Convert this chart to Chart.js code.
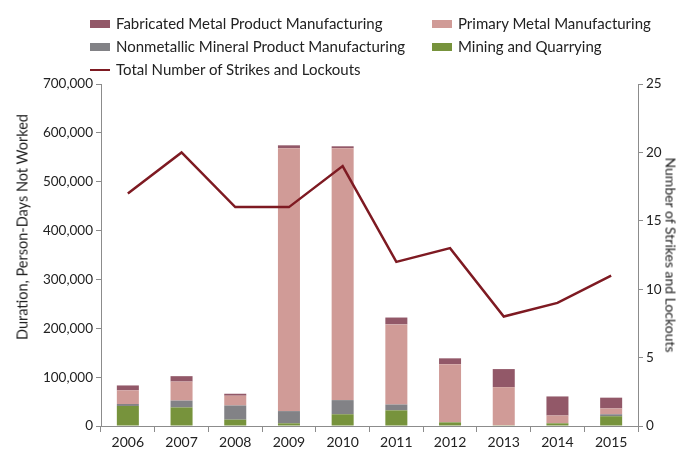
<!DOCTYPE html>
<html>
<head>
<meta charset="utf-8">
<script src="https://cdn.jsdelivr.net/npm/chart.js@4"></script>
<style>
  body { margin: 0; background: #fff; font-family: Lato, sans-serif; color: #222; }
  #wrap { position: relative; width: 679px; height: 450px; }
  #legend { position: absolute; left: 0; top: 0; font-size: 15px; }
  .item { position: absolute; white-space: nowrap; line-height: 18px; }
  .box { display: inline-block; width: 20px; height: 8px; margin-right: 6px; vertical-align: 1px; }
  .ln { display: inline-block; width: 20px; height: 2px; margin-right: 6px; vertical-align: 4px; }
  .ytitle { position: absolute; white-space: nowrap; font-size: 14.5px; transform: translate(-50%, -50%) rotate(-90deg); }
  .y1title { position: absolute; white-space: nowrap; font-size: 14px; transform: translate(-50%, -50%) rotate(90deg); }
</style>
</head>
<body>
<div id="wrap">
  <canvas id="chart" width="679" height="450"></canvas>
  <div id="legend"></div>
  <div class="ytitle" style="left:22px; top:227px;">Duration, Person-Days Not Worked</div>
  <div class="y1title" style="left:671px; top:255px;">Number of Strikes and Lockouts</div>
</div>
<script>
const years = ['2006', '2007', '2008', '2009', '2010', '2011', '2012', '2013', '2014', '2015'];

// person-days not worked, by industry
const mining = [41000, 38000, 13000, 5500, 24000, 32000, 7500, 1500, 5500, 20000];
const nonmetallic = [4000, 14000, 29000, 25000, 29000, 12000, 0, 0, 0, 4000];
const primaryMetal = [28000, 39000, 20000, 538000, 515500, 164000, 119000, 78000, 16000, 12000];
const fabricated = [10000, 11000, 4000, 6000, 4000, 14000, 12000, 37000, 39000, 22000];

// total number of strikes and lockouts
const strikes = [17, 20, 16, 16, 19, 12, 13, 8, 9, 11];

const colors = {
  fabricated: '#925868',
  primary: '#D09B97',
  nonmetallic: '#828286',
  mining: '#77933C',
  line: '#7E1A22'
};

const font = { family: 'Lato, sans-serif', size: 13.5 };

const barOpts = { yAxisID: 'y', stack: 's', barPercentage: 0.41, categoryPercentage: 1, order: 2 };

const datasets = [
  { type: 'line', label: 'Total Number of Strikes and Lockouts', data: strikes, yAxisID: 'y1',
    borderColor: colors.line, backgroundColor: colors.line, borderWidth: 2.5, pointRadius: 0,
    tension: 0, order: 1 },
  { type: 'bar', label: 'Mining and Quarrying', data: mining, backgroundColor: colors.mining, ...barOpts },
  { type: 'bar', label: 'Nonmetallic Mineral Product Manufacturing', data: nonmetallic, backgroundColor: colors.nonmetallic, ...barOpts },
  { type: 'bar', label: 'Primary Metal Manufacturing', data: primaryMetal, backgroundColor: colors.primary, ...barOpts },
  { type: 'bar', label: 'Fabricated Metal Product Manufacturing', data: fabricated, backgroundColor: colors.fabricated, ...barOpts }
];

// legend laid out in two columns like the original
const legendLayout = [
  { label: 'Fabricated Metal Product Manufacturing', color: colors.fabricated, x: 90, y: 14 },
  { label: 'Primary Metal Manufacturing', color: colors.primary, x: 432, y: 14 },
  { label: 'Nonmetallic Mineral Product Manufacturing', color: colors.nonmetallic, x: 90, y: 37 },
  { label: 'Mining and Quarrying', color: colors.mining, x: 432, y: 37 },
  { label: 'Total Number of Strikes and Lockouts', color: colors.line, x: 90, y: 60, line: true }
];
const legendEl = document.getElementById('legend');
legendLayout.forEach((it) => {
  const d = document.createElement('div');
  d.className = 'item';
  d.style.left = it.x + 'px';
  d.style.top = it.y + 'px';
  const sw = document.createElement('span');
  sw.className = it.line ? 'ln' : 'box';
  sw.style.background = it.color;
  d.appendChild(sw);
  d.appendChild(document.createTextNode(it.label));
  legendEl.appendChild(d);
});

const axisColor = '#8c8c8c';

new Chart(document.getElementById('chart'), {
  data: { labels: years, datasets },
  options: {
    responsive: false,
    animation: false,
    layout: { padding: { top: 84, left: 0, right: 0, bottom: 0 } },
    plugins: { legend: { display: false }, tooltip: { enabled: false } },
    scales: {
      x: {
        stacked: true,
        grid: { display: true, drawOnChartArea: false, offset: true, color: axisColor, tickLength: 6 },
        border: { color: axisColor },
        ticks: { color: '#222', font: { ...font, size: 14 }, padding: 2 },
        afterFit: (s) => { s.height = 24; }
      },
      y: {
        stacked: true,
        position: 'left',
        min: 0, max: 700000,
        grid: { display: true, drawOnChartArea: false, color: axisColor, tickLength: 5 },
        border: { color: axisColor },
        ticks: { stepSize: 100000, color: '#222', font: font, padding: 3,
          callback: (v) => v.toLocaleString('en-US') },
        afterFit: (s) => { s.width = 101; }
      },
      y1: {
        position: 'right',
        min: 0, max: 25,
        grid: { display: true, drawOnChartArea: false, color: axisColor, tickLength: 5 },
        border: { color: axisColor },
        ticks: { stepSize: 5, color: '#222', font: font, padding: 3 },
        afterFit: (s) => { s.width = 41; }
      }
    }
  }
});
</script>
</body>
</html>
